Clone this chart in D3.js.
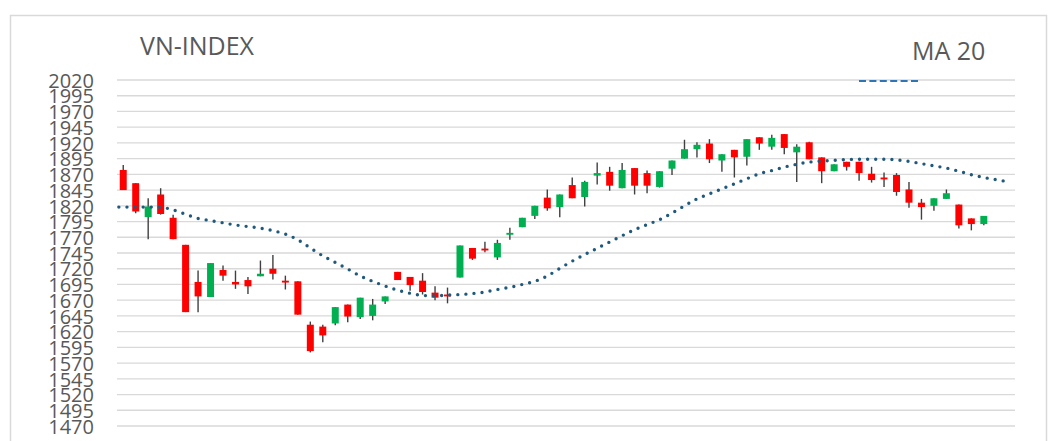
<!DOCTYPE html>
<html>
<head>
<meta charset="utf-8">
<script src="https://cdn.jsdelivr.net/npm/d3@7"></script>
<style>
  body { margin: 0; background: #fff; }
  svg { display: block; }
  .tick text { font-family: 'Open Sans', sans-serif; font-size: 20px; fill: #595959; }
</style>
</head>
<body>
<svg id="chart" width="1060" height="441"></svg>
<script>
// daily sessions, index 0..69 have candles; 70, 71 are only on the MA line
const sessionCount = 72;

const open = [1877, 1856, 1802, 1838, 1801, 1758, 1699, 1675, 1718, 1699,
  1702, 1708, 1720, 1701, 1700, 1631, 1628, 1633, 1663, 1643,
  1645, 1668, 1715, 1707, 1701, 1682, 1679, 1706, 1753, 1752,
  1738, 1774, 1786, 1804, 1833, 1818, 1853, 1834, 1868, 1874,
  1848, 1880, 1872, 1850, 1879, 1895, 1910, 1919, 1892, 1909,
  1898, 1929, 1914, 1934, 1905, 1921, 1897, 1875, 1890, 1890,
  1871, 1865, 1869, 1846, 1825, 1820, 1831, 1822, 1800, 1791];

const high = [1885, 1856, 1832, 1848, 1806, 1758, 1717, 1729, 1725, 1717,
  1707, 1733, 1742, 1709, 1700, 1636, 1631, 1659, 1663, 1674,
  1672, 1676, 1715, 1707, 1713, 1692, 1690, 1757, 1753, 1763,
  1766, 1785, 1801, 1820, 1846, 1838, 1865, 1860, 1889, 1882,
  1888, 1880, 1876, 1875, 1892, 1925, 1921, 1926, 1902, 1909,
  1926, 1929, 1933, 1934, 1918, 1922, 1897, 1886, 1890, 1890,
  1882, 1873, 1872, 1858, 1831, 1832, 1846, 1822, 1800, 1804];

const low = [1845, 1808, 1767, 1806, 1767, 1651, 1651, 1675, 1701, 1688,
  1680, 1708, 1703, 1687, 1647, 1587, 1603, 1630, 1635, 1640,
  1638, 1664, 1702, 1685, 1679, 1670, 1665, 1706, 1734, 1746,
  1734, 1766, 1786, 1799, 1812, 1802, 1832, 1819, 1854, 1844,
  1848, 1838, 1840, 1849, 1869, 1895, 1897, 1888, 1874, 1865,
  1884, 1909, 1909, 1902, 1858, 1894, 1856, 1875, 1876, 1860,
  1857, 1850, 1836, 1817, 1798, 1812, 1831, 1784, 1781, 1789];

const close = [1845, 1811, 1819, 1807, 1767, 1651, 1676, 1729, 1709, 1695,
  1692, 1712, 1712, 1698, 1647, 1589, 1614, 1659, 1644, 1674,
  1663, 1676, 1702, 1694, 1683, 1674, 1676, 1757, 1736, 1749,
  1761, 1777, 1801, 1820, 1816, 1838, 1832, 1858, 1872, 1852,
  1877, 1852, 1852, 1875, 1892, 1910, 1917, 1894, 1902, 1897,
  1926, 1919, 1928, 1912, 1914, 1894, 1875, 1886, 1882, 1872,
  1861, 1862, 1842, 1825, 1818, 1832, 1840, 1789, 1791, 1804];

// MA 20, starting one session before the first visible candle (index -1)
const maStart = -1;
const ma20 = [1818, 1818, 1818, 1818, 1817.5, 1813.6, 1806.5, 1800, 1796.5, 1793,
  1789.5, 1787, 1784.5, 1780.5, 1775, 1766, 1753, 1740.5, 1730, 1719.5,
  1708.5, 1700, 1692.5, 1686, 1681, 1677.5, 1677, 1678, 1679, 1680.5,
  1683, 1687, 1690.5, 1695, 1700, 1708.5, 1720.5, 1732, 1742.5, 1752.5,
  1762.5, 1772.5, 1782, 1790, 1798, 1808.5, 1820, 1831, 1839, 1847,
  1855, 1863, 1871, 1876, 1881.5, 1886, 1889.5, 1891, 1892.3, 1893.5,
  1894, 1894, 1894, 1893, 1890.5, 1887, 1883.5, 1880, 1875, 1869.5,
  1865, 1861.5, 1858];

const yTicks = d3.range(1470, 2021, 25);
const title = 'VN-INDEX';
const legendLabel = 'MA 20';

const svg = d3.select('#chart');
const plot = {left: 117, right: 1015, top: 80, bottom: 426};

svg.append('rect')
    .attr('x', 10.5).attr('y', 15.5)
    .attr('width', 1036).attr('height', 460)
    .attr('fill', '#fff')
    .attr('stroke', '#d9d9d9')
    .attr('stroke-width', 1.5);

const x = d3.scaleLinear()
    .domain([-0.5, sessionCount - 0.5])
    .range([plot.left, plot.right]);
const step = x(1) - x(0);

const y = d3.scaleLinear()
    .domain([1470, 2020])
    .range([plot.bottom, plot.top]);

// gridlines
svg.append('g')
    .selectAll('line')
    .data(yTicks)
    .enter()
        .append('line')
            .attr('x1', plot.left)
            .attr('x2', plot.right)
            .attr('y1', (d) => y(d))
            .attr('y2', (d) => y(d))
            .attr('stroke', '#d9d9d9')
            .attr('stroke-width', 1.3);

const yAxis = svg.append('g')
    .attr('transform', `translate(${plot.left}, 0)`)
    .call(d3.axisLeft(y)
        .tickValues(yTicks)
        .tickFormat(d3.format('d'))
        .tickSize(0)
        .tickPadding(23));
yAxis.select('.domain').remove();
yAxis.selectAll('.tick text').attr('dy', '0.36em');

svg.append('defs').append('clipPath')
    .attr('id', 'plot-clip')
    .append('rect')
        .attr('x', plot.left).attr('y', 0)
        .attr('width', plot.right - plot.left).attr('height', 441);

// candles
const candles = svg.append('g')
    .selectAll('g')
    .data(d3.range(open.length))
    .enter()
        .append('g');

candles.append('line')
    .attr('x1', (i) => x(i))
    .attr('x2', (i) => x(i))
    .attr('y1', (i) => y(high[i]))
    .attr('y2', (i) => y(low[i]))
    .attr('stroke', '#404040')
    .attr('stroke-width', 1.4);

const bodyWidth = step * 0.56;
candles.append('rect')
    .attr('x', (i) => x(i) - bodyWidth / 2)
    .attr('width', bodyWidth)
    .attr('y', (i) => y(Math.max(open[i], close[i])))
    .attr('height', (i) => Math.max(1.6, Math.abs(y(open[i]) - y(close[i]))))
    .attr('fill', (i) => close[i] >= open[i] ? '#00b050' : '#ff0000');

// MA 20 dotted line
const maLine = d3.line()
    .x((d, i) => x(i + maStart))
    .y((d) => y(d))
    .curve(d3.curveMonotoneX);

svg.append('path')
    .datum(ma20)
    .attr('clip-path', 'url(#plot-clip)')
    .attr('d', maLine)
    .attr('fill', 'none')
    .attr('stroke', '#1f5a7c')
    .attr('stroke-width', 3.4)
    .attr('stroke-linecap', 'round')
    .attr('stroke-dasharray', '0 8.1');

// title & legend
svg.append('text')
    .attr('x', 140).attr('y', 55)
    .attr('font-family', "'Open Sans', sans-serif")
    .attr('font-size', 25)
    .attr('fill', '#595959')
    .text(title);

svg.append('text')
    .attr('x', 912).attr('y', 60)
    .attr('font-family', "'Open Sans', sans-serif")
    .attr('font-size', 25)
    .attr('fill', '#595959')
    .text(legendLabel);

svg.append('line')
    .attr('x1', 859).attr('x2', 920)
    .attr('y1', 81).attr('y2', 81)
    .attr('stroke', '#2e75b6')
    .attr('stroke-width', 2)
    .attr('stroke-dasharray', '7 3.4');
</script>
</body>
</html>
